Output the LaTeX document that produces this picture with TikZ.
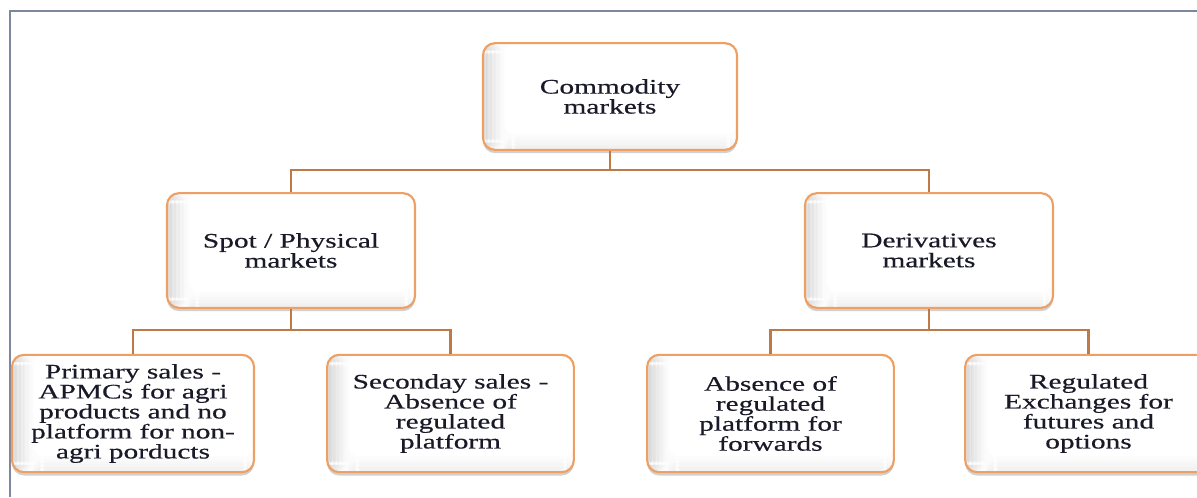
\documentclass[tikz,border=0pt]{standalone}
\usepackage{fontspec}
\setmainfont{Liberation Serif}[FakeStretch=1.42, FakeBold=0.4]
\usetikzlibrary{shadows}
\definecolor{boxborder}{RGB}{238,160,100}
\definecolor{conn}{RGB}{190,122,70}
\definecolor{frame}{RGB}{125,135,158}
\definecolor{txt}{RGB}{25,25,40}
\tikzset{
  mbox/.style={draw=boxborder, line width=1.6pt, rounded corners=9pt,
    align=center, text=txt, inner sep=0pt,
    font=\fontsize{15.5pt}{15pt}\selectfont,
    drop shadow={shadow xshift=0pt, shadow yshift=-2.5pt, opacity=0.3, fill=black!60},
    fill=white,
    path picture={
      \foreach \i in {0,...,15}{
        \fill[black!\the\numexpr 16-\i\relax!white!97]
          ([xshift=\i pt]path picture bounding box.south west) rectangle ([xshift=\i pt+1.05pt]path picture bounding box.north west);
      }
      \foreach \i in {0,...,11}{
        \fill[black!\the\numexpr (12-\i)/2\relax!white]
          ([xshift=16pt, yshift=\i pt]path picture bounding box.south west) rectangle ([yshift=\i pt+1.05pt]path picture bounding box.south east);
      }
    }},
  conline/.style={draw=conn, line width=1.6pt}
}
\begin{document}
\begin{tikzpicture}[x=0.75pt,y=-0.75pt]
\useasboundingbox (0,0) rectangle (1197,497);
\clip (0,0) rectangle (1197,497);
\fill[white] (0,0) rectangle (1197,497);
% frame
\draw[frame, line width=1.6pt] (10,497) -- (10,11) -- (1200,11);
% nodes
\node[mbox, minimum width=190.5pt, minimum height=80pt] (root) at (610,96.5) {Commodity\\markets};
\node[mbox, minimum width=186pt, minimum height=86pt] (spot) at (291,250.5) {Spot / Physical\\markets};
\node[mbox, minimum width=186pt, minimum height=86pt] (deriv) at (929,250.5) {Derivatives\\markets};
\node[mbox, minimum width=181.5pt, minimum height=88pt] (prim) at (133,413.5) {Primary sales -\\APMCs for agri\\products and no\\platform for non-\\agri porducts};
\node[mbox, minimum width=185pt, minimum height=88pt] (sec) at (450.5,413.5) {Seconday sales -\\Absence of\\regulated\\platform};
\node[mbox, minimum width=185pt, minimum height=88pt] (abs) at (770.5,413.5) {Absence of\\regulated\\platform for\\forwards};
\node[mbox, minimum width=185pt, minimum height=88pt] (reg) at (1088.5,413.5) {Regulated\\Exchanges for\\futures and\\options};
% connectors
\coordinate (b1) at (610,170);
\coordinate (b2) at (291,330);
\coordinate (b3) at (929,330);
\draw[conline] (root.south) -- (b1);
\draw[conline] (spot.north) |- (b1) -| (deriv.north);
\draw[conline] (spot.south) -- (b2);
\draw[conline] (prim.north) |- (b2) -| (sec.north);
\draw[conline] (deriv.south) -- (b3);
\draw[conline] (abs.north) |- (b3) -| (reg.north);
\end{tikzpicture}
\end{document}
